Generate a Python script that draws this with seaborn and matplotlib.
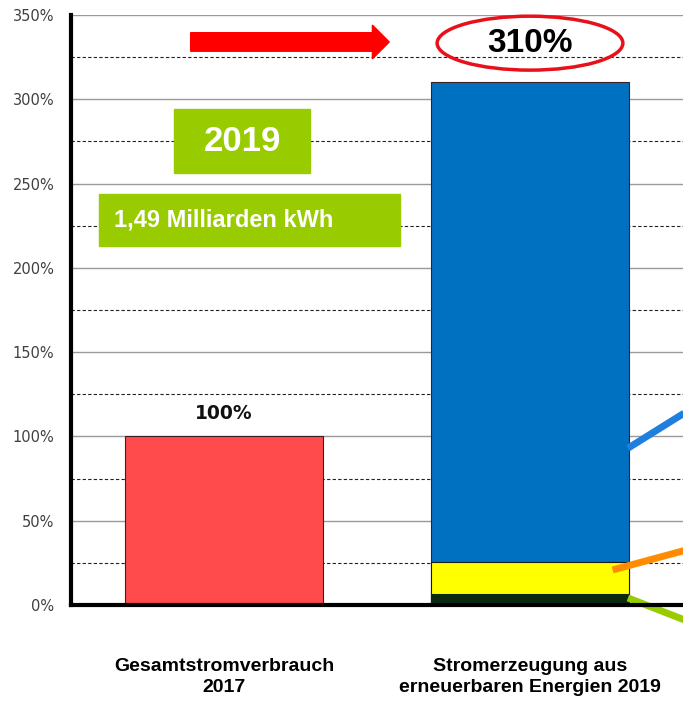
import matplotlib
matplotlib.use('Agg')
import pandas as pd
import matplotlib.pyplot as plt
import seaborn as sns
from matplotlib.patches import Ellipse, FancyArrow, Rectangle

# Werte (in Prozent des Gesamtstromverbrauchs 2017)
kategorien = ['Gesamtstromverbrauch\n2017', 'Stromerzeugung aus\nerneuerbaren Energien 2019']
gesamt = [100, 310]          # Balkenhoehen
gelb_bis = 25.5              # obere Kante gelbes Segment
gruen_bis = 6.5              # obere Kante dunkelgruenes Segment
y_ticks = [0, 50, 100, 150, 200, 250, 300, 350]
y_labels = ['0%', '50%', '100%', '150%', '200%', '250%', '300%', '350%']

sns.set_style('white')
plt.rcParams['font.family'] = ['DejaVu Sans']

fig = plt.figure(figsize=(6.83, 7.01), dpi=100)
ax = fig.add_axes([71 / 683, 96 / 701, 612 / 683, 590 / 701])

# Hilfslinien
for v in range(25, 350, 50):
    ax.axhline(v, color='#222222', lw=0.8, ls=(0, (3, 2)), zorder=0)
for v in y_ticks[1:]:
    ax.axhline(v, color='#9a9a9a', lw=1.0, zorder=0)

df = pd.DataFrame({'kat': kategorien, 'wert': gesamt})
sns.barplot(data=df, x='kat', y='wert', hue='kat', order=kategorien,
            palette=['#FF4B4B', '#0070C0'], saturation=1, width=0.645, legend=False,
            edgecolor='#3a2020', linewidth=0.8, ax=ax)

df2 = pd.DataFrame({'kat': [kategorien[1]], 'wert': [gelb_bis]})
sns.barplot(data=df2, x='kat', y='wert', order=kategorien, color='#FFFF00',
            saturation=1, width=0.645, edgecolor='#1a1a1a', linewidth=0.8, ax=ax)
df3 = pd.DataFrame({'kat': [kategorien[1]], 'wert': [gruen_bis]})
sns.barplot(data=df3, x='kat', y='wert', order=kategorien, color='#0B2A10',
            saturation=1, width=0.645, edgecolor='#0B2A10', linewidth=0.8, ax=ax)
for p in ax.patches:
    p.set_zorder(2)

ax.set_xlim(-0.5, 1.5)
ax.set_ylim(0, 350)
ax.set_yticks(y_ticks)
ax.set_yticklabels(y_labels, color='#404040', fontsize=10.5)
ax.tick_params(axis='y', length=0, pad=12)
ax.tick_params(axis='x', length=0, pad=38)
ax.set_xticks([0, 1])
ax.set_xticklabels(kategorien, fontsize=14, fontweight='bold', family='Liberation Sans',
                   linespacing=1.35, color='black')
ax.set_xlabel('')
ax.set_ylabel('')
for s in ['top', 'right']:
    ax.spines[s].set_visible(False)
for s in ['left', 'bottom']:
    ax.spines[s].set_linewidth(3)
    ax.spines[s].set_color('black')
    ax.spines[s].set_zorder(6)

# Beschriftungen
ax.text(0, 108, '100%', ha='center', va='bottom', fontsize=13.5, fontweight='bold',
        family='DejaVu Sans', color='#111111')

ax.add_patch(Ellipse((1.0, 333.3), 0.607, 32, fill=False, edgecolor='#E8101A', lw=2.5,
                     zorder=5, clip_on=False))
ax.text(1.0, 333.3, '310%', ha='center', va='center', fontsize=24, fontweight='bold',
        family='Liberation Sans', color='black', zorder=6)

ax.add_patch(FancyArrow(-0.109, 334, 0.649, 0, width=11, head_width=20, head_length=0.055,
                        length_includes_head=True, color='#FF0000', zorder=5))

ax.add_patch(Rectangle((-0.162, 256), 0.444, 38.5, color='#99CC00', zorder=5))
ax.text(0.06, 275, '2019', ha='center', va='center', fontsize=25, fontweight='bold',
        family='Liberation Sans', color='white', zorder=6)

ax.add_patch(Rectangle((-0.410, 213), 0.985, 31, color='#99CC00', zorder=5))
ax.text(0.0, 228.5, '1,49 Milliarden kWh', ha='center', va='center', fontsize=17,
        fontweight='bold', family='Liberation Sans', color='white', zorder=6)

# Verbindungslinien nach rechts
ax.plot([1.32, 1.62], [93, 127], color='#1F7FDF', lw=5, solid_capstyle='butt', zorder=5, clip_on=False)
ax.plot([1.27, 1.62], [20.8, 38], color='#FF8C00', lw=5, solid_capstyle='butt', zorder=5, clip_on=False)
ax.plot([1.32, 1.62], [4.2, -17], color='#99CC00', lw=5, solid_capstyle='butt', zorder=5, clip_on=False)

fig.savefig('out.png', dpi=100, facecolor='white')
